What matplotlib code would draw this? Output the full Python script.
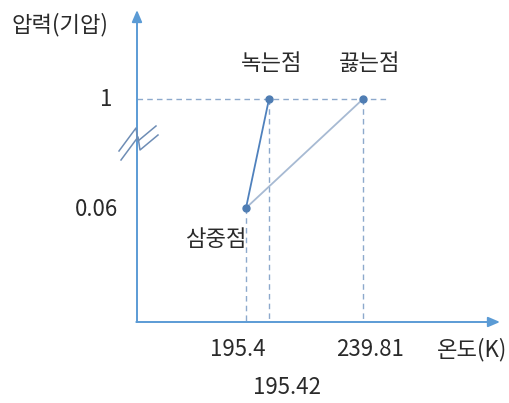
import matplotlib.pyplot as plt
import numpy as np

plt.rcParams['font.family'] = ['Noto Sans CJK KR', 'DejaVu Sans']

# Phase diagram values (schematic, not to scale)
temps = [195.4, 195.42, 239.81]
pressures = [0.06, 1, 1]
point_names = ['삼중점', '녹는점', '끓는점']
temp_labels = ['195.4', '195.42', '239.81']
pressure_labels = ['0.06', '1']

# schematic layout: pixel anchors for the broken axes
temp_anchor = [180.0, 195.4, 195.42, 239.81, 260.0]
temp_px = [137, 246, 269, 363, 500]
pres_anchor = [0.0, 0.06, 1.0, 1.3]
pres_px = [322, 208, 99, 10]


def tx(t):
    return np.interp(t, temp_anchor, temp_px)


def py(p):
    return np.interp(p, pres_anchor, pres_px)


axis_col = '#5B9BD5'
dash_col = '#8DA9CC'
txt_col = '#2a2a2a'
fs = 16

fig = plt.figure(figsize=(5.1, 4.03), dpi=100)
ax = fig.add_axes([0, 0, 1, 1])
ax.set_xlim(0, 510)
ax.set_ylim(403, 0)
ax.axis('off')

x0, y0 = tx(180.0), py(0.0)

# axes with arrows
ax.annotate('', xy=(x0, py(1.3)), xytext=(x0, y0),
            arrowprops=dict(arrowstyle='-|>,head_length=0.7,head_width=0.3',
                            color=axis_col, lw=1.4, shrinkA=0, shrinkB=0))
ax.annotate('', xy=(tx(260.0), y0), xytext=(x0 - 0.7, y0),
            arrowprops=dict(arrowstyle='-|>,head_length=0.7,head_width=0.3',
                            color=axis_col, lw=1.4, shrinkA=0, shrinkB=0))

# dashed guide lines
ax.plot([x0, tx(239.81) + 25], [py(1), py(1)], ls=(0, (4, 3)), color=dash_col, lw=1)
for t, p in zip(temps, pressures):
    ax.plot([tx(t), tx(t)], [py(p), y0], ls=(0, (4, 3)), color=dash_col, lw=1)

# phase boundary lines
ax.plot([tx(temps[0]), tx(temps[1])], [py(pressures[0]), py(pressures[1])],
        color='#4F81BD', lw=1.3)
ax.plot([tx(temps[0]), tx(temps[2])], [py(pressures[0]), py(pressures[2])],
        color='#A7BAD3', lw=1.3)
ax.plot([tx(t) for t in temps], [py(p) for p in pressures], 'o',
        color='#4F7DB3', ms=5, zorder=5)

# axis break mark
for dx, dy in [(0, 0), (2, 9)]:
    zx = np.array([119, 136, 138, 156]) + dx
    zy = np.array([151, 128, 141, 126]) + dy
    ax.plot(zx, zy, color='#6E8DB5', lw=1.1, zorder=4)

# texts
ax.text(12, 25, '압력(기압)', fontsize=fs, color=txt_col, ha='left', va='center')
ax.text(106, py(1), pressure_labels[1], fontsize=fs, color=txt_col, ha='center', va='center')
ax.text(97, 210, pressure_labels[0], fontsize=fs, color=txt_col, ha='center', va='center')

ax.text(217, 239, point_names[0], fontsize=fs, color=txt_col, ha='center', va='center')
ax.text(272, 64, point_names[1], fontsize=fs, color=txt_col, ha='center', va='center')
ax.text(370, 63, point_names[2], fontsize=fs, color=txt_col, ha='center', va='center')

ax.text(238, 350, temp_labels[0], fontsize=fs, color=txt_col, ha='center', va='center')
ax.text(287, 388, temp_labels[1], fontsize=fs, color=txt_col, ha='center', va='center')
ax.text(370, 350, temp_labels[2], fontsize=fs, color=txt_col, ha='center', va='center')
ax.text(472, 350, '온도(K)', fontsize=fs, color=txt_col, ha='center', va='center')

fig.savefig('out.png', dpi=100)
